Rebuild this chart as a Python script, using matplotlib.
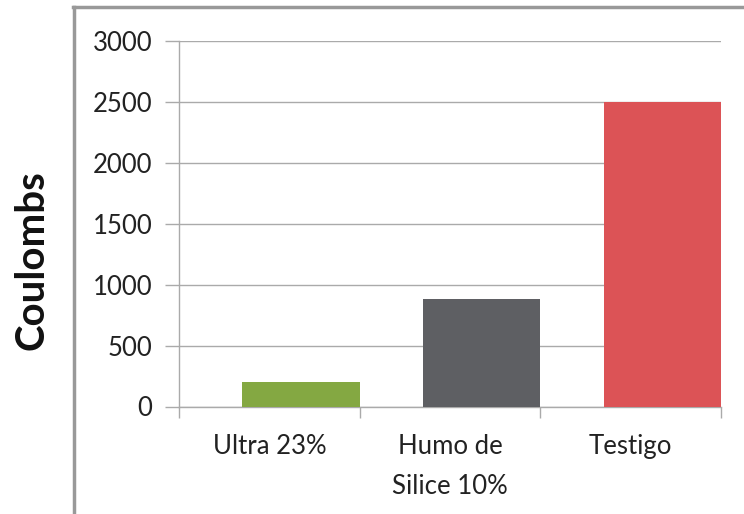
import matplotlib
matplotlib.use("Agg")
import matplotlib.pyplot as plt
from matplotlib.lines import Line2D

categories = ["Ultra 23%", "Humo de\nSilice 10%", "Testigo"]
values = [200, 880, 2500]
colors = ["#84A842", "#5E5F63", "#DC5356"]
yticks = [0, 500, 1000, 1500, 2000, 2500, 3000]

plt.rcParams['font.family'] = ['Lato', 'DejaVu Sans']

W, H = 744, 514
fig = plt.figure(figsize=(W/100, H/100), dpi=100)
ax = fig.add_axes([179/W, 1-406.5/H, (721-179)/W, (406.5-40.7)/H])

n = len(categories)
bw = 0.65
for i, (v, c) in enumerate(zip(values, colors)):
    ax.bar(i + 0.5, v, width=-bw, align='edge', color=c, zorder=3)

ax.set_xlim(-0.5, n - 0.5)
ax.set_ylim(0, 3000)
ax.set_yticks(yticks)
ax.set_yticklabels([str(t) for t in yticks], fontsize=18.5, color="#222222")
ax.yaxis.grid(True, color="#AAAAAA", linewidth=1.0, zorder=0)
ax.set_axisbelow(True)

ax.set_xticks([i - 0.5 for i in range(n + 1)])
ax.set_xticklabels([])
ax.set_xticks(range(n), minor=True)
ax.set_xticklabels(categories, minor=True, fontsize=18.5, color="#222222", linespacing=1.75, va='top')
ax.tick_params(axis='x', which='minor', length=0, pad=20)
ax.tick_params(axis='x', which='major', length=8, color="#AAAAAA", width=1, direction='out')
ax.tick_params(axis='y', length=10, color="#AAAAAA", width=1, pad=9)

for s in ['top', 'right']:
    ax.spines[s].set_visible(False)
for s in ['left', 'bottom']:
    ax.spines[s].set_color("#AAAAAA")
    ax.spines[s].set_linewidth(1)

fig.text(32/W, 1-260/H, "Coulombs", rotation=90, fontsize=29, fontweight='bold',
         ha='center', va='center', color="#111111")

fig.add_artist(Line2D([73/W, 1.0], [1-7/H, 1-7/H], color="#999999", linewidth=2.5, transform=fig.transFigure))
fig.add_artist(Line2D([74/W, 74/W], [0, 1-7/H], color="#999999", linewidth=2.5, transform=fig.transFigure))

fig.savefig("out.png", dpi=100, facecolor="white")
